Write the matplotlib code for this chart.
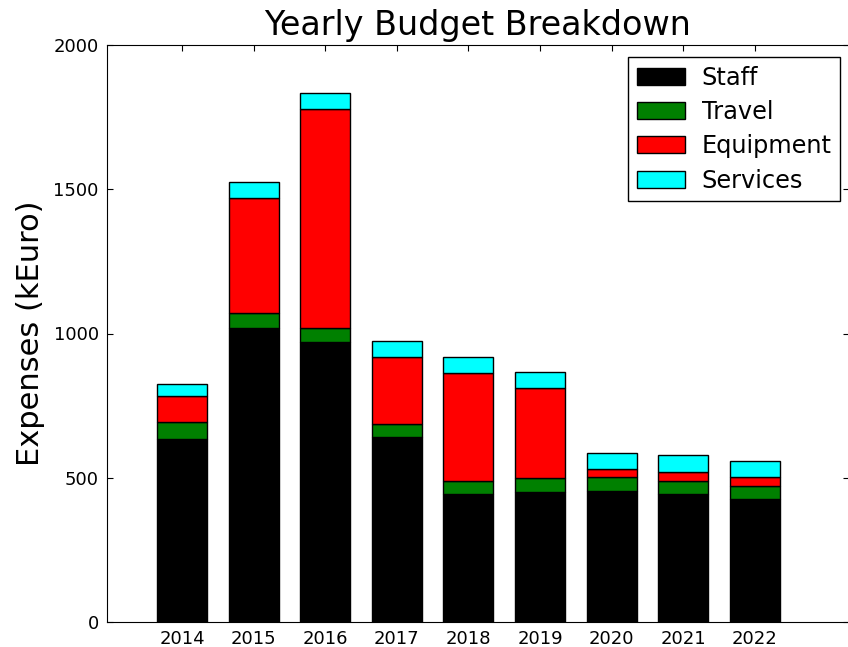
import matplotlib
matplotlib.use("Agg")
import matplotlib.pyplot as plt
import numpy as np

years = ["2014", "2015", "2016", "2017", "2018", "2019", "2020", "2021", "2022"]
staff = [635, 1020, 970, 642, 443, 450, 454, 443, 425]
travel = [59, 50, 48, 43, 47, 48, 48, 47, 47]
equipment = [90, 400, 760, 232, 374, 312, 29, 29, 30]
services = [41, 55, 55, 57, 56, 55, 56, 60, 56]

categories = ["Staff", "Travel", "Equipment", "Services"]
colors = ["black", "green", "red", "cyan"]

fig = plt.figure(figsize=(8.48, 6.47), dpi=100)
ax = fig.add_axes([107 / 848, 25 / 647, 742 / 848, 577 / 647])

x = np.arange(len(years))
bottom = np.zeros(len(years))
for name, vals, col in zip(categories, [staff, travel, equipment, services], colors):
    ax.bar(x, vals, 0.7, bottom=bottom, color=col, edgecolor="black",
           linewidth=1.0, label=name)
    bottom += np.array(vals)

ax.set_xlim(-1.047, 9.315)
ax.set_ylim(0, 2000)
ax.set_yticks([0, 500, 1000, 1500, 2000])
ax.set_xticks(x)
ax.set_xticklabels(years)
ax.tick_params(direction="in", top=True, right=True, length=4, labelsize=13, pad=6)
ax.set_ylabel("Expenses (kEuro)", fontsize=22, labelpad=6)
ax.set_title("Yearly Budget Breakdown", fontsize=24, pad=7)

ax.legend(loc="upper right", bbox_to_anchor=(0.988, 0.979), borderaxespad=0,
          fontsize=17.3, fancybox=False, edgecolor="black", framealpha=1,
          handlelength=2, handleheight=0.7, labelspacing=0.43, borderpad=0.35,
          handletextpad=0.7)

fig.savefig("out.png", dpi=100)
